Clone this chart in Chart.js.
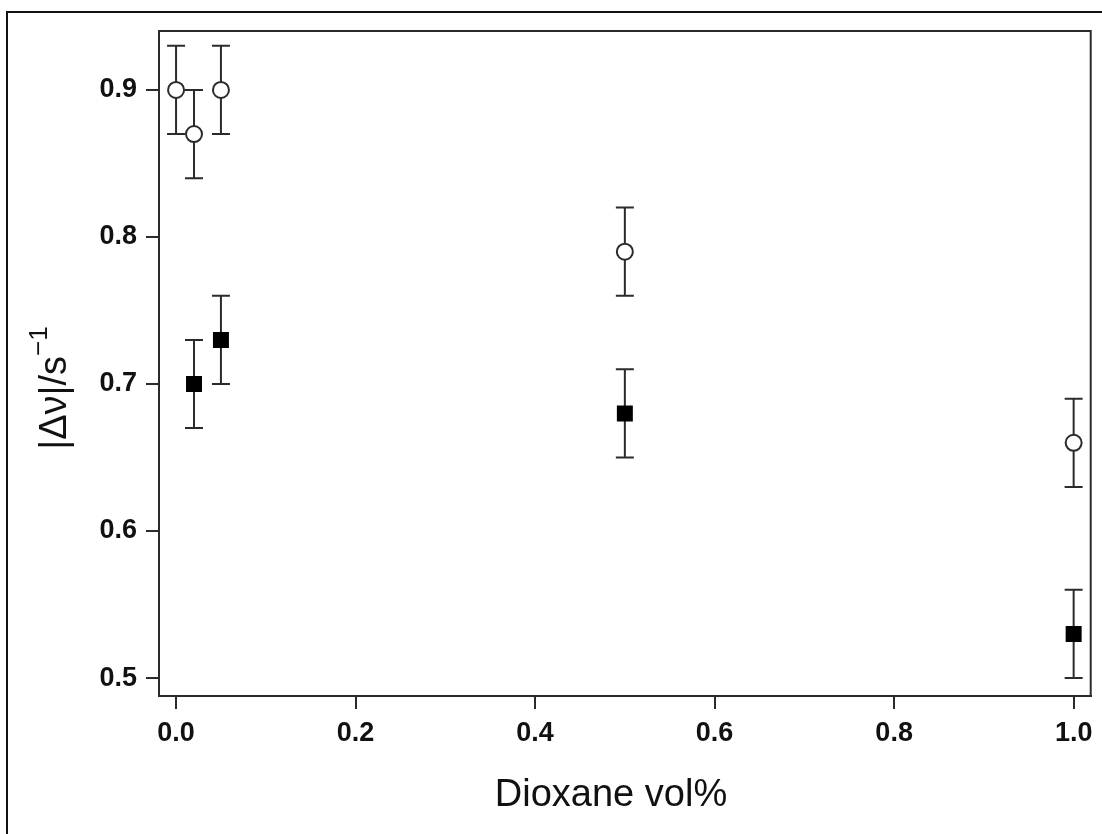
<!DOCTYPE html>
<html>
<head>
<meta charset="utf-8">
<script src="https://cdn.jsdelivr.net/npm/chart.js@4"></script>
<style>
  html, body { margin:0; padding:0; background:#fff; }
  #wrap { position:relative; width:1102px; height:834px; }
</style>
</head>
<body>
<div id="wrap"><canvas id="chart" width="1102" height="834"></canvas></div>
<script>
// ===== Data =====
const openX      = [0, 0.02, 0.05, 0.5, 1.0];
const openY      = [0.90, 0.87, 0.90, 0.79, 0.66];
const openErr    = [0.03, 0.03, 0.03, 0.03, 0.03];
const filledX    = [0.02, 0.05, 0.5, 1.0];
const filledY    = [0.70, 0.73, 0.68, 0.53];
const filledErr  = [0.03, 0.03, 0.03, 0.03];
const xTicks     = [0.0, 0.2, 0.4, 0.6, 0.8, 1.0];
const yTicks     = [0.5, 0.6, 0.7, 0.8, 0.9];
const xTitle     = 'Dioxane vol%';
const yTitleMain = '|Δν|/s';
const yTitleSup  = '−1';

const LINE = '#2b2b2b';
const FONT = '"Liberation Sans", Arial, sans-serif';

// ===== Plugins =====
const errorBars = {
  id: 'errorBars',
  beforeDatasetsDraw(chart){
    const {ctx, scales:{x, y}} = chart;
    ctx.save();
    ctx.strokeStyle = LINE;
    ctx.lineWidth = 2;
    chart.data.datasets.forEach(ds=>{
      ds.data.forEach((p,i)=>{
        const e = ds.errors[i];
        const px = x.getPixelForValue(p.x);
        const y1 = y.getPixelForValue(p.y + e);
        const y2 = y.getPixelForValue(p.y - e);
        ctx.beginPath();
        ctx.moveTo(px, y1); ctx.lineTo(px, y2);
        ctx.moveTo(px-9, y1); ctx.lineTo(px+9, y1);
        ctx.moveTo(px-9, y2); ctx.lineTo(px+9, y2);
        ctx.stroke();
      });
    });
    ctx.restore();
  }
};

const frame = {
  id: 'frame',
  beforeDraw(chart){
    const {ctx} = chart;
    ctx.save();
    ctx.fillStyle = '#fff';
    ctx.fillRect(0, 0, chart.width, chart.height);
    ctx.strokeStyle = '#111';
    ctx.lineWidth = 2;
    ctx.beginPath();
    ctx.moveTo(7, chart.height); ctx.lineTo(7, 12); ctx.lineTo(chart.width, 12);
    ctx.stroke();
    ctx.restore();
  },
  afterDraw(chart){
    const {ctx, chartArea:a} = chart;
    ctx.save();
    ctx.strokeStyle = LINE;
    ctx.lineWidth = 2;
    ctx.strokeRect(a.left, a.top, a.right - a.left, a.bottom - a.top);

    // x title
    ctx.fillStyle = '#111';
    ctx.font = '38px ' + FONT;
    ctx.textAlign = 'center';
    ctx.textBaseline = 'alphabetic';
    ctx.fillText(xTitle, 611, 806);

    // y title, rotated, with superscript
    ctx.font = '38px ' + FONT;
    const w1 = ctx.measureText(yTitleMain).width;
    ctx.font = '26px ' + FONT;
    const w2 = ctx.measureText(yTitleSup).width;
    const total = w1 + w2;
    ctx.translate(66, 388);
    ctx.rotate(-Math.PI/2);
    ctx.textAlign = 'left';
    ctx.font = '38px ' + FONT;
    ctx.fillText(yTitleMain, -total/2, 0);
    ctx.font = '26px ' + FONT;
    ctx.fillText(yTitleSup, -total/2 + w1, -19);
    ctx.restore();
  }
};

// ===== Chart =====
const tickFont = { family: FONT, size: 27, weight: 'bold' };

new Chart(document.getElementById('chart'), {
  type: 'scatter',
  data: {
    datasets: [
      {
        label: 'open',
        data: openX.map((x,i)=>({x, y: openY[i]})),
        errors: openErr,
        pointStyle: 'circle',
        pointRadius: 8,
        pointBorderWidth: 2,
        borderColor: LINE,
        backgroundColor: '#fff'
      },
      {
        label: 'filled',
        data: filledX.map((x,i)=>({x, y: filledY[i]})),
        errors: filledErr,
        pointStyle: 'rect',
        pointRadius: 11.3,
        pointBorderWidth: 0,
        borderColor: '#000',
        backgroundColor: '#000'
      }
    ]
  },
  options: {
    responsive: false,
    animation: false,
    devicePixelRatio: 1,
    layout: { padding: { top: 31, right: 10, left: 0, bottom: 0 } },
    plugins: { legend: { display: false }, tooltip: { enabled: false } },
    scales: {
      x: {
        type: 'linear', min: -0.019, max: 1.019,
        afterBuildTicks: s => { s.ticks = xTicks.map(v=>({value:v})); },
        afterFit: s => { s.height = 138; },
        grid: { drawOnChartArea: false, drawTicks: true, tickLength: 13, color: LINE, lineWidth: 2 },
        border: { display: true, color: LINE, width: 2 },
        ticks: { font: tickFont, color: '#111', padding: 8, maxRotation: 0, callback: v => v.toFixed(1) }
      },
      y: {
        type: 'linear', min: 0.4878, max: 0.9401,
        afterBuildTicks: s => { s.ticks = yTicks.map(v=>({value:v})); },
        afterFit: s => { s.width = 159; },
        grid: { drawOnChartArea: false, drawTicks: true, tickLength: 13, color: LINE, lineWidth: 2 },
        border: { display: true, color: LINE, width: 2 },
        ticks: { font: tickFont, color: '#111', padding: 9, callback: v => v.toFixed(1) }
      }
    }
  },
  plugins: [frame, errorBars]
});
</script>
</body>
</html>
